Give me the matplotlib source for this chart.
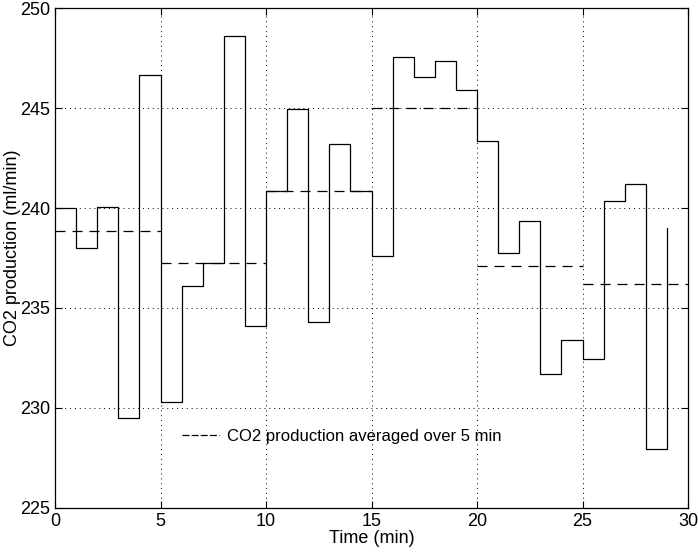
import matplotlib
matplotlib.use('Agg')
import matplotlib.pyplot as plt
from matplotlib.lines import Line2D

plt.rcParams['font.family'] = ['Liberation Sans', 'DejaVu Sans']

# minute-by-minute CO2 production (value at start of each minute, last point at t=29)
minutes = list(range(30))
co2 = [240.0, 238.0, 240.05, 229.5, 246.65,
       230.3, 236.1, 237.27, 248.63, 234.1,
       240.87, 244.94, 234.28, 243.21, 240.87,
       237.62, 247.58, 246.58, 247.38, 245.93,
       243.38, 237.74, 239.37, 231.7, 233.38,
       232.45, 240.36, 241.22, 227.94, 239.02]

# 5-minute averages
avg_start = [0, 5, 10, 15, 20, 25]
avg_end = [5, 10, 15, 20, 25, 30]
avg_val = [238.84, 237.27, 240.83, 245.03, 237.12, 236.2]

fig = plt.figure(figsize=(6.98, 5.53), dpi=100)
ax = fig.add_axes([0.0788, 0.082, 0.907, 0.903])

ax.step(minutes, co2, where='post', color='black', lw=0.9)
for i in range(len(avg_val)):
    ax.plot([avg_start[i], avg_end[i]], [avg_val[i], avg_val[i]],
            color='black', lw=0.9, linestyle=(0, (8, 5.6)))

ax.set_xlim(0, 30)
ax.set_ylim(225, 250)
ax.set_xticks(range(0, 31, 5))
ax.set_yticks(range(225, 251, 5))
ax.grid(True, linestyle=(0, (1, 4)), color='black', lw=0.7)
ax.tick_params(direction='in', top=True, right=True, length=5, labelsize=13)
for s in ax.spines.values():
    s.set_linewidth(0.9)

ax.set_xlabel('Time (min)', fontsize=13, labelpad=0)
ax.set_ylabel('CO2 production (ml/min)', fontsize=13)
ax.yaxis.set_label_coords(-0.054, 0.52)

handle = Line2D([], [], color='black', lw=0.9, linestyle=(0, (5.6, 1.7)))
ax.legend([handle], ['CO2 production averaged over 5 min'],
          loc='lower left', bbox_to_anchor=(0.19, 0.115), frameon=False,
          fontsize=12, handlelength=2.2, handletextpad=0.5, borderaxespad=0)

fig.savefig('out.png', dpi=100)
